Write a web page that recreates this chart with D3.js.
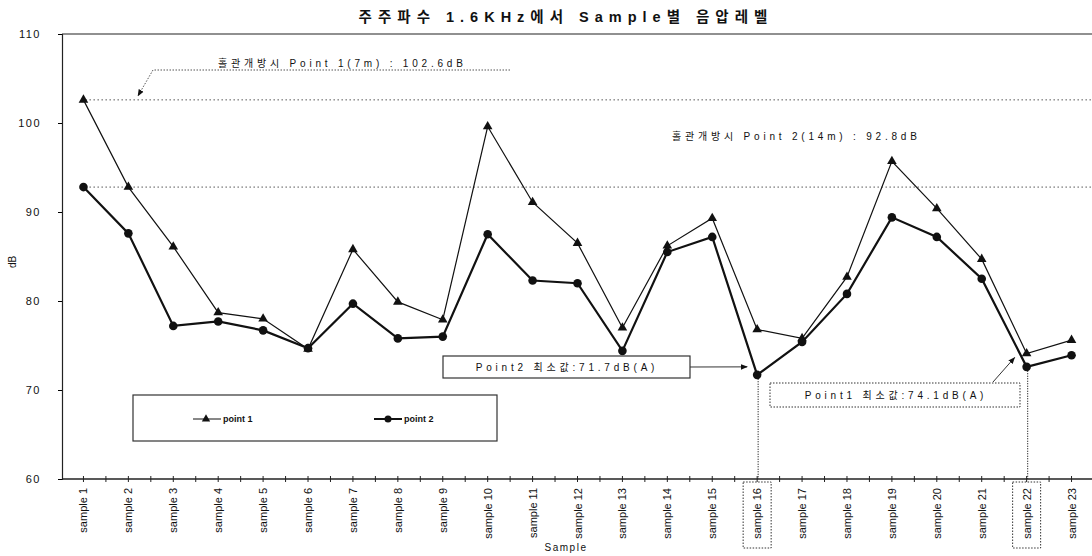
<!DOCTYPE html>
<html><head><meta charset="utf-8">
<script src="https://cdn.jsdelivr.net/npm/d3@7"></script>
<style>
body{margin:0;background:#fff;}
text{font-family:"Liberation Sans","Noto Sans CJK KR",sans-serif;fill:#111;}
</style></head>
<body><svg id="c" width="1092" height="556"></svg>
<script>
const categories = d3.range(1,24).map(i=>"sample "+i);
const point1 = [102.6,92.8,86.1,78.7,78.0,74.6,85.8,79.9,77.9,99.6,91.1,86.5,77.0,86.2,89.3,76.8,75.8,82.7,95.7,90.4,84.7,74.1,75.6];
const point2 = [92.8,87.6,77.2,77.7,76.7,74.7,79.7,75.8,76.0,87.5,82.3,82.0,74.4,85.5,87.2,71.7,75.4,80.8,89.4,87.2,82.5,72.6,73.9];
const yTicks = [60,70,80,90,100,110];
const seriesNames = ["point 1","point 2"];
const refValues = [102.6, 92.8];
const refLabels = ["홀관개방시 Point 1(7m) : 102.6dB","홀관개방시 Point 2(14m) : 92.8dB"];
const minLabels = ["Point2 최소값:71.7dB(A)","Point1 최소값:74.1dB(A)"];
const title = "주주파수 1.6KHz에서 Sample별 음압레벨";

const svg = d3.select("#c");
const L=62, R=1094, T=34, B=479;
const x = d3.scaleBand().domain(categories).range([L-1,R]).padding(0);
const cx = c => x(c)+x.bandwidth()/2;
const y = d3.scaleLinear().domain([60,110]).range([B,T]);

svg.append("text").attr("x",566).attr("y",22).attr("text-anchor","middle")
  .attr("font-size",14.5).attr("font-weight","bold").attr("letter-spacing",6).text(title);

// axes frame
svg.append("line").attr("x1",L).attr("x2",1092).attr("y1",T).attr("y2",T).attr("stroke","#222").attr("stroke-width",1.2);
const ya = svg.append("g").attr("transform",`translate(${L},0)`).call(d3.axisLeft(y).tickValues(yTicks).tickSize(4).tickPadding(17));
ya.select(".domain").attr("stroke","#222").attr("stroke-width",1.2);
ya.selectAll("text").attr("font-size",11).attr("letter-spacing",1.5);
svg.append("text").attr("transform","translate(16,262) rotate(-90)").attr("text-anchor","middle").attr("font-size",10).text("dB");

// x axis
svg.append("line").attr("x1",L).attr("x2",1092).attr("y1",B).attr("y2",B).attr("stroke","#222").attr("stroke-width",1.3);
const tickPos = categories.map(c=>cx(c)).concat(categories.map(c=>x(c)).slice(1));
svg.append("g").selectAll("line").data(tickPos).join("line")
  .attr("x1",d=>d).attr("x2",d=>d).attr("y1",B-3).attr("y2",B+3).attr("stroke","#222");
svg.append("g").selectAll("text").data(categories).join("text")
  .attr("transform",c=>`translate(${cx(c)+4},${488}) rotate(-90)`)
  .attr("text-anchor","end").attr("font-size",11).text(c=>c);
svg.append("text").attr("x",566).attr("y",551).attr("text-anchor","middle").attr("font-size",10).attr("letter-spacing",1.5).text("Sample");

// reference lines
refValues.forEach((v,i)=>{
  svg.append("line").attr("x1",cx(categories[0])+2).attr("x2",1092).attr("y1",y(v)).attr("y2",y(v))
    .attr("stroke","#555").attr("stroke-width",1).attr("stroke-dasharray","1.5,2.5");
});
svg.append("text").attr("x",218).attr("y",67).attr("font-size",10).attr("letter-spacing",3.8).text(refLabels[0]);
svg.append("text").attr("x",672).attr("y",140).attr("font-size",10).attr("letter-spacing",3.8).text(refLabels[1]);
svg.append("defs").append("marker").attr("id","ah").attr("viewBox","0 0 10 10").attr("refX",9).attr("refY",5)
  .attr("markerWidth",7).attr("markerHeight",7).attr("orient","auto")
  .append("path").attr("d","M0,1 L10,5 L0,9 Z").attr("fill","#111");
svg.append("polyline").attr("points",`510,70 153,70 ${138},${y(refValues[0])-4}`).attr("fill","none")
  .attr("stroke","#555").attr("stroke-dasharray","1.5,1.5").attr("marker-end","url(#ah)");

// vertical dotted lines for minima
const i16 = 15, i22 = 21;
[[i16,point2[i16]],[i22,point2[i22]]].forEach(([i,v])=>{
  svg.append("line").attr("x1",cx(categories[i])+1).attr("x2",cx(categories[i])+1).attr("y1",y(v)+4).attr("y2",B)
    .attr("stroke","#222").attr("stroke-width",1.2).attr("stroke-dasharray","1,1.5");
  svg.append("rect").attr("x",cx(categories[i])-14).attr("y",482).attr("width",28).attr("height",66)
    .attr("fill","none").attr("stroke","#333").attr("stroke-dasharray","1.5,1.5");
});

// lines
const line = d3.line().x((d,i)=>cx(categories[i])).y(d=>y(d));
svg.append("path").datum(point1).attr("d",line).attr("fill","none").attr("stroke","#111").attr("stroke-width",1.2);
svg.append("path").datum(point2).attr("d",line).attr("fill","none").attr("stroke","#111").attr("stroke-width",2.2);
const tri = d3.symbol().type(d3.symbolTriangle).size(40);
svg.append("g").selectAll("path").data(point1).join("path").attr("d",tri)
  .attr("transform",(d,i)=>`translate(${cx(categories[i])},${y(d)})`).attr("fill","#111");
svg.append("g").selectAll("circle").data(point2).join("circle")
  .attr("cx",(d,i)=>cx(categories[i])).attr("cy",d=>y(d)).attr("r",4.3).attr("fill","#111");

// min boxes
svg.append("rect").attr("x",443).attr("y",356).attr("width",247).attr("height",22).attr("fill","#fff").attr("stroke","#333").attr("stroke-width",1.2);
svg.append("text").attr("x",567).attr("y",371).attr("text-anchor","middle").attr("font-size",10).attr("letter-spacing",3.8).text(minLabels[0]);
svg.append("line").attr("x1",690).attr("x2",cx(categories[i16])-10).attr("y1",367).attr("y2",y(point2[i16])-8)
  .attr("stroke","#333").attr("marker-end","url(#ah)");
svg.append("rect").attr("x",770).attr("y",383).attr("width",250).attr("height",24).attr("fill","#fff").attr("stroke","#333").attr("stroke-dasharray","1.5,1.5");
svg.append("text").attr("x",896).attr("y",399).attr("text-anchor","middle").attr("font-size",10).attr("letter-spacing",3.8).text(minLabels[1]);
svg.append("line").attr("x1",993).attr("y1",382).attr("x2",cx(categories[i22])-12).attr("y2",y(point1[i22])+4)
  .attr("stroke","#333").attr("marker-end","url(#ah)");

// legend
svg.append("rect").attr("x",133).attr("y",395).attr("width",364).attr("height",46).attr("fill","#fff").attr("stroke","#333").attr("stroke-width",1.2);
const lg = [{x:193,w:1,name:seriesNames[0],sym:"tri"},{x:374,w:2,name:seriesNames[1],sym:"circ"}];
lg.forEach(d=>{
  svg.append("line").attr("x1",d.x).attr("x2",d.x+28).attr("y1",419).attr("y2",419).attr("stroke","#111").attr("stroke-width",d.w);
  if(d.sym==="tri") svg.append("path").attr("d",d3.symbol().type(d3.symbolTriangle).size(30)).attr("transform",`translate(${d.x+13},419)`).attr("fill","#111");
  else svg.append("circle").attr("cx",d.x+14).attr("cy",419).attr("r",3.5).attr("fill","#111");
  svg.append("text").attr("x",d.x+30).attr("y",422).attr("font-size",9).attr("font-weight","bold").text(d.name);
});
</script></body></html>
